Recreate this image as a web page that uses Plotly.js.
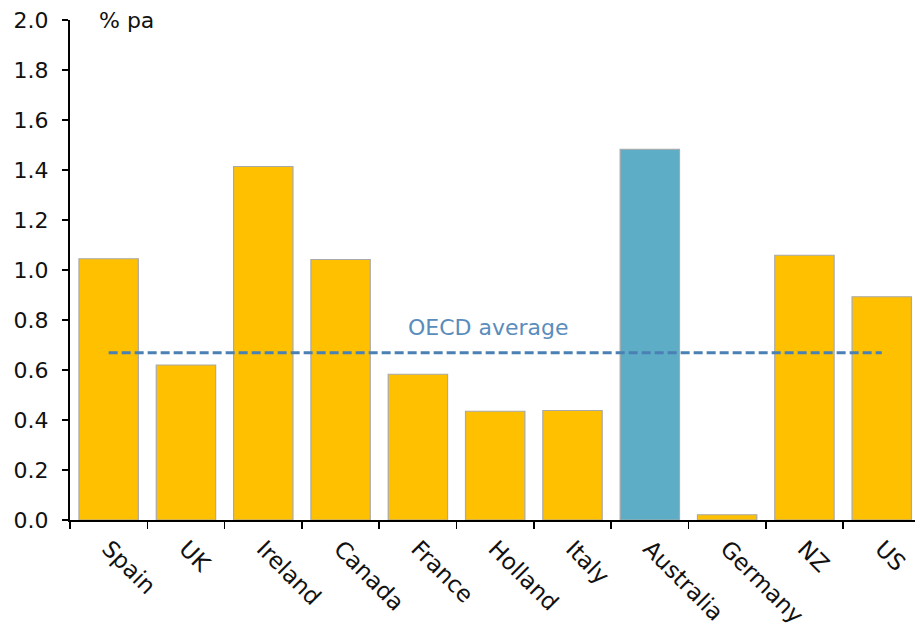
<!DOCTYPE html>
<html>
<head>
<meta charset="utf-8">
<script src="https://cdn.plot.ly/plotly-3.0.1.min.js"></script>
<style>
  html, body { margin: 0; padding: 0; background: #ffffff; }
  #chart { width: 915px; height: 636px; }
</style>
</head>
<body>
<div id="chart"></div>
<script>
// Growth rate by country, % per annum
const countries = ['Spain', 'UK', 'Ireland', 'Canada', 'France', 'Holland', 'Italy', 'Australia', 'Germany', 'NZ', 'US'];
const growth = [1.045, 0.62, 1.414, 1.042, 0.583, 0.435, 0.438, 1.483, 0.021, 1.059, 0.893];
const oecdAverage = 0.669;
const highlighted = 'Australia';

const gold = '#FFC000';
const blue = '#5DADC7';
const fontFamily = '"DejaVu Sans", Lato, sans-serif';

const bars = {
  type: 'bar',
  x: countries,
  y: growth,
  marker: {
    color: countries.map(c => c === highlighted ? blue : gold),
    line: { color: '#A9A9A9', width: 1.2 }
  },
  hoverinfo: 'x+y',
  showlegend: false
};

const average = {
  type: 'scatter',
  mode: 'lines',
  x: countries,
  y: countries.map(() => oecdAverage),
  line: { color: '#4A80B3', width: 3, dash: '9px,4px' },
  hoverinfo: 'y',
  showlegend: false
};

const layout = {
  width: 915,
  height: 636,
  margin: { l: 70, r: 0, t: 20, b: 115.5 },
  paper_bgcolor: '#ffffff',
  plot_bgcolor: '#ffffff',
  font: { family: fontFamily, size: 22, color: '#111111' },
  bargap: 0.232,
  xaxis: {
    type: 'category',
    range: [-0.5, 10.43],
    showgrid: false,
    showline: true,
    linecolor: '#000000',
    linewidth: 2,
    ticks: 'outside',
    tickson: 'boundaries',
    ticklen: 7,
    tickwidth: 1.5,
    tickcolor: '#000000',
    tickangle: 45,
    ticklabelstandoff: 4,
    tickfont: { family: fontFamily, size: 23, color: '#111111' },
    zeroline: false
  },
  yaxis: {
    range: [0, 2],
    dtick: 0.2,
    tick0: 0,
    tickformat: '.1f',
    showgrid: false,
    showline: true,
    linecolor: '#000000',
    linewidth: 2,
    ticks: 'outside',
    ticklen: 6,
    tickwidth: 1.5,
    tickcolor: '#000000',
    ticklabelstandoff: 9,
    tickfont: { family: fontFamily, size: 22, color: '#111111' },
    zeroline: false
  },
  annotations: [
    {
      text: '% pa',
      xref: 'paper', yref: 'paper',
      x: 0.032, y: 1.0,
      xanchor: 'left', yanchor: 'middle',
      showarrow: false,
      font: { family: fontFamily, size: 22, color: '#111111' }
    },
    {
      text: 'OECD average',
      xref: 'paper', yref: 'y',
      x: 0.495, y: oecdAverage,
      xanchor: 'center', yanchor: 'bottom',
      yshift: 11,
      showarrow: false,
      font: { family: fontFamily, size: 22, color: '#5A8DBB' }
    }
  ]
};

Plotly.newPlot('chart', [bars, average], layout, { displayModeBar: false, staticPlot: true });
</script>
</body>
</html>
